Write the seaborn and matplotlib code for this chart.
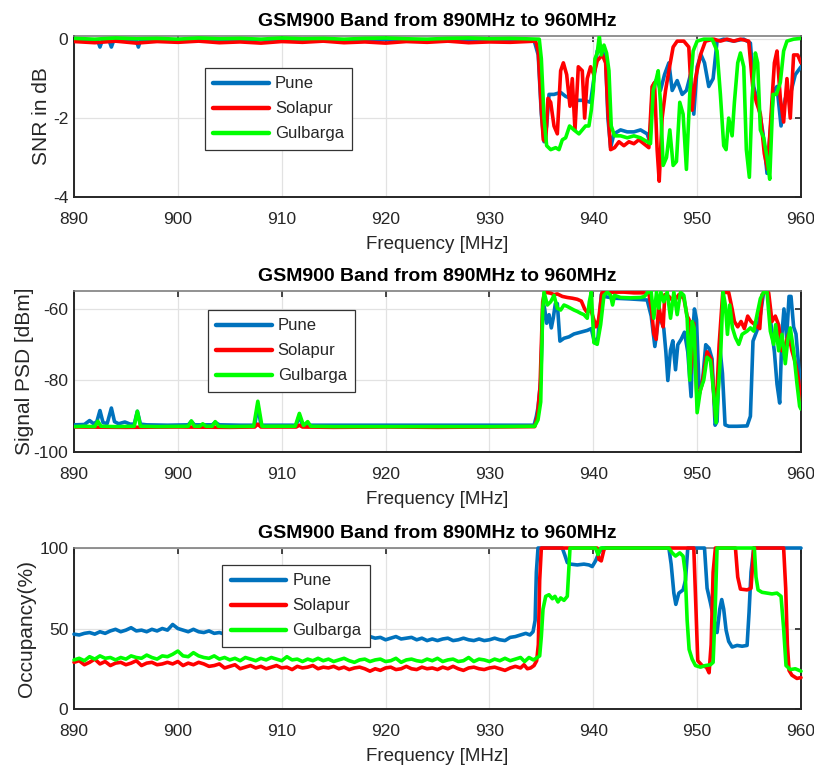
import numpy as np
import pandas as pd
import seaborn as sns
import matplotlib.pyplot as plt

# ---------------------------------------------------------------- labels
CITIES = ["Pune", "Solapur", "Gulbarga"]
COLORS = {"Pune": "#0072BD", "Solapur": "#FF0000", "Gulbarga": "#00FF00"}
TITLE = "GSM900 Band from 890MHz to 960MHz"
X_LABEL = "Frequency [MHz]"
X_TICKS = [890, 900, 910, 920, 930, 940, 950, 960]

# ---------------------------------------------------------------- SNR (dB), (freq MHz, value)
snr_pune = [
    (890, -0.02), (891, -0.01), (892, -0.02), (892.3, -0.05), (892.5, -0.2), (892.7, -0.05),
    (893.2, -0.02), (893.4, -0.05), (893.6, -0.2), (893.8, -0.05), (894.5, -0.02), (895.5, -0.01),
    (896.0, -0.03), (896.2, -0.2), (896.4, -0.03), (898, -0.02), (901, -0.01), (904, -0.02),
    (907, -0.01), (910, -0.02), (913, -0.01), (916, -0.02), (919, -0.01), (922, -0.02),
    (925, -0.01), (928, -0.02), (931, -0.01), (934.3, -0.03),
    (934.7, -0.4), (935.0, -1.9), (935.26, -2.6), (935.51, -2.2), (935.74, -1.4), (936.22, -1.4),
    (936.86, -1.35), (937.34, -1.45), (937.82, -1.5), (938.46, -1.55), (939.1, -1.55), (939.74, -1.6),
    (940.06, -1.0), (940.38, -0.3), (940.87, -0.3), (941.19, -0.5), (941.41, -2.0), (941.67, -2.75),
    (941.99, -2.4), (942.63, -2.3), (943.27, -2.35), (943.91, -2.35), (944.55, -2.3), (945.19, -2.4),
    (945.45, -2.6), (945.71, -1.2), (946.15, -1.0), (946.47, -1.3), (946.86, -0.9), (947.28, -0.6),
    (947.6, -1.3), (948.08, -1.05), (948.56, -1.4), (948.97, -1.3), (949.36, -0.9), (949.68, -1.9),
    (950.0, -0.7), (950.38, -0.4), (950.71, -0.6), (951.12, -1.2), (951.54, -1.0), (951.92, -0.05),
    (952.56, 0.0), (953.53, -0.05), (954.49, 0.0), (955.13, -0.1), (955.45, -1.2), (955.93, -1.7),
    (956.35, -2.4), (956.73, -3.4), (957.05, -2.3), (957.37, -1.3), (957.69, -1.2), (958.08, -2.2),
    (958.49, -1.5), (958.97, -1.4), (959.45, -0.9), (960.0, -0.7),
]
snr_solapur = [
    (890, -0.06), (892, -0.09), (894, -0.05), (896, -0.1), (898, -0.06), (900, -0.08), (902, -0.05),
    (904, -0.09), (906, -0.07), (908, -0.1), (910, -0.06), (912, -0.08), (914, -0.05), (916, -0.09),
    (918, -0.07), (920, -0.1), (922, -0.06), (924, -0.08), (926, -0.05), (928, -0.09), (930, -0.07),
    (932, -0.08), (934.45, -0.05),
    (934.7, -0.3), (935.0, -1.8), (935.19, -2.55), (935.42, -2.6), (935.64, -1.5), (935.9, -1.6),
    (936.22, -2.2), (936.54, -2.4), (936.86, -0.8), (937.12, -0.6), (937.44, -0.9), (937.76, -1.7),
    (937.98, -1.0), (938.24, -2.3), (938.56, -0.7), (938.94, -0.8), (939.17, -2.0), (939.42, -1.0),
    (939.74, -0.7), (940.06, -0.9), (940.38, -0.55), (940.87, -0.4), (941.19, -0.6), (941.41, -1.8),
    (941.67, -2.8), (942.05, -2.75), (942.47, -2.6), (942.95, -2.7), (943.43, -2.6), (943.91, -2.65),
    (944.39, -2.55), (944.87, -2.65), (945.35, -2.75), (945.67, -1.2), (945.9, -1.1), (946.15, -2.8),
    (946.35, -3.6), (946.63, -2.0), (946.96, -1.3), (947.28, -0.8), (947.69, -0.2), (948.08, -0.05),
    (948.72, -0.05), (949.2, -0.2), (949.52, -1.8), (949.84, -1.0), (950.32, -0.4), (950.8, -0.05),
    (951.6, 0.0), (952.24, -0.05), (952.88, 0.0), (953.53, -0.05), (954.17, 0.0), (954.97, -0.05),
    (955.35, -1.2), (955.71, -1.6), (956.09, -1.9), (956.47, -2.9), (956.79, -3.3), (957.1, -2.0),
    (957.44, -0.6), (957.69, -0.3), (958.01, -1.5), (958.33, -2.1), (958.65, -1.0), (958.97, -2.0),
    (959.29, -0.4), (959.68, -0.4), (960.0, -0.6),
]
snr_gulbarga = [
    (890, 0.02), (892, 0.0), (894, 0.03), (896, 0.01), (898, 0.02), (900, 0.0), (902, 0.03),
    (904, 0.01), (906, 0.02), (908, 0.0), (910, 0.03), (912, 0.01), (914, 0.02), (916, 0.0),
    (918, 0.02), (920, 0.03), (922, 0.01), (924, 0.0), (926, 0.02), (928, 0.03), (930, 0.01),
    (932, 0.02), (934.8, 0.0),
    (935.0, -0.5), (935.26, -2.0), (935.51, -2.7), (935.9, -2.8), (936.38, -2.75), (936.7, -2.8),
    (937.02, -2.55), (937.34, -2.5), (937.72, -2.2), (938.14, -2.3), (938.62, -2.4), (938.94, -2.3),
    (939.26, -2.2), (939.58, -2.2), (939.81, -1.8), (940.0, -1.3), (940.16, -0.5), (940.38, -0.35),
    (940.58, 0.08), (940.77, -0.4), (941.03, -0.15), (941.28, -0.35), (941.51, -0.8), (941.73, -2.2),
    (942.05, -2.45), (942.63, -2.45), (943.27, -2.5), (943.91, -2.45), (944.55, -2.5), (945.19, -2.6),
    (945.51, -2.65), (945.77, -1.3), (945.99, -1.1), (946.25, -0.8), (946.47, -1.6), (946.73, -3.2),
    (947.05, -3.0), (947.37, -2.3), (947.69, -3.2), (948.01, -3.1), (948.33, -1.6), (948.65, -1.9),
    (948.97, -3.3), (949.29, -1.4), (949.62, -0.3), (950.0, -0.05), (950.64, 0.0), (951.44, 0.0),
    (951.92, -0.3), (952.24, -1.4), (952.56, -2.7), (952.79, -2.8), (953.04, -2.0), (953.37, -2.45),
    (953.59, -1.6), (953.91, -0.6), (954.17, -0.35), (954.49, -0.7), (954.74, -2.8), (955.03, -3.5),
    (955.29, -1.5), (955.61, -0.35), (955.83, -0.6), (956.09, -2.3), (956.41, -2.5), (956.73, -3.0),
    (956.99, -3.55), (957.31, -1.4), (957.63, -1.4), (958.01, -1.1), (958.33, -0.3), (958.65, -0.05),
    (959.29, 0.0), (960.0, 0.02),
]

# ---------------------------------------------------------------- signal PSD (dBm), (freq MHz, value)
psd_pune = [
    (890, -92.4), (891, -92.3), (891.5, -91.2), (891.9, -92.1), (892.2, -91.5), (892.5, -88.4),
    (892.8, -91.8), (893.2, -92.0), (893.6, -87.7), (893.9, -91.5), (894.3, -92.1), (894.9, -91.6),
    (895.4, -92.2), (895.8, -92.2), (896.1, -88.6), (896.4, -92.2), (897, -92.4), (899, -92.5),
    (901, -92.4), (901.3, -91.4), (901.6, -92.4), (903.3, -92.4), (903.6, -91.7), (904, -92.4),
    (906, -92.5), (907.4, -92.5), (907.7, -87.0), (908.0, -92.5), (910, -92.5), (911.4, -92.5),
    (911.7, -89.8), (912.0, -92.5), (915, -92.5), (920, -92.5), (925, -92.5), (930, -92.5),
    (934.3, -92.5), (934.52, -90.0), (934.68, -87.5), (934.94, -80.0), (935.16, -58.0), (935.32, -60.0),
    (935.51, -64.0), (935.74, -61.6), (935.96, -65.3), (936.15, -62.5), (936.35, -58.5), (936.54, -58.5),
    (936.79, -69.0), (937.18, -68.2), (937.66, -67.8), (938.14, -67.0), (938.78, -66.5), (939.42, -66.0),
    (939.81, -65.5), (940.13, -69.5), (940.45, -68.0), (940.77, -56.0), (941.03, -56.5), (942.0, -57.0),
    (943.5, -57.2), (945.19, -57.5), (945.58, -62.0), (945.93, -70.5), (946.22, -64.0), (946.47, -62.5),
    (946.79, -65.5), (946.99, -72.0), (947.18, -80.0), (947.44, -71.5), (947.66, -68.9), (947.92, -77.0),
    (948.14, -70.0), (948.46, -68.5), (948.78, -66.5), (949.1, -72.0), (949.42, -84.5), (949.62, -65.0),
    (949.74, -60.0), (949.94, -63.0), (950.19, -82.0), (950.51, -80.5), (950.83, -70.0), (951.15, -71.0),
    (951.44, -74.0), (951.73, -92.5), (951.92, -91.5), (952.18, -70.5), (952.44, -78.0), (952.69, -92.4),
    (953.04, -92.8), (953.85, -92.8), (954.81, -92.7), (955.13, -90.0), (955.38, -69.0), (955.77, -66.0),
    (956.09, -61.6), (956.41, -55.3), (956.79, -55.3), (957.1, -64.0), (957.44, -72.0), (957.69, -81.0),
    (957.95, -86.3), (958.17, -67.0), (958.36, -60.0), (958.62, -68.0), (958.85, -56.5), (959.04, -56.5),
    (959.29, -65.0), (959.52, -67.0), (959.78, -76.0), (960.0, -81.0),
]
psd_solapur = [
    (890, -93.0), (895, -93.1), (900, -93.0), (905, -93.1), (907.4, -93.0), (907.7, -92.2),
    (908.0, -93.0), (910, -93.0), (911.4, -93.0), (911.7, -92.5), (912.0, -93.0), (915, -93.1),
    (920, -93.0), (925, -93.1), (930, -93.0),
    (934.36, -92.9), (934.62, -90.0), (934.87, -82.0), (935.13, -58.0), (935.32, -55.3), (935.9, -55.6),
    (936.22, -56.0), (936.54, -55.8), (937.02, -56.5), (937.5, -56.8), (937.98, -57.0), (938.46, -57.3),
    (938.85, -57.8), (939.17, -60.0), (939.42, -61.0), (939.74, -60.0), (940.06, -63.0), (940.26, -65.0),
    (940.51, -63.0), (940.83, -55.5), (941.35, -55.4), (942.31, -55.3), (942.95, -55.3), (943.91, -55.5),
    (944.87, -55.5), (945.35, -55.8), (945.61, -60.0), (945.83, -67.0), (946.06, -68.5), (946.31, -59.0),
    (946.54, -63.0), (946.73, -65.0), (946.89, -56.0), (947.28, -56.5), (947.76, -58.0), (948.24, -56.0),
    (948.72, -57.0), (949.04, -62.0), (949.23, -63.0), (949.36, -78.0), (949.68, -64.0), (950.0, -86.0),
    (950.48, -81.0), (950.96, -72.0), (951.35, -74.0), (951.79, -90.5), (952.12, -70.0), (952.31, -62.0),
    (952.47, -55.4), (953.04, -55.4), (953.37, -60.0), (953.59, -63.5), (953.91, -65.0), (954.23, -63.5),
    (954.55, -65.5), (954.87, -62.0), (955.19, -63.5), (955.61, -64.5), (956.03, -65.5), (956.25, -56.0),
    (956.57, -55.3), (956.89, -55.5), (957.21, -63.5), (957.53, -62.0), (957.85, -64.5), (958.17, -71.7),
    (958.49, -70.0), (958.81, -67.0), (959.13, -71.7), (959.45, -75.0), (959.78, -80.0), (960.0, -87.5),
]
psd_gulbarga = [
    (890, -92.9), (891, -92.8), (892.0, -92.9), (892.3, -91.4), (892.6, -92.8), (894, -92.9),
    (895.8, -92.8), (896.1, -88.6), (896.4, -92.8), (898, -92.9), (901.0, -92.8), (901.3, -91.3),
    (901.6, -92.8), (902.1, -92.8), (902.4, -92.1), (902.7, -92.8), (903.3, -92.8), (903.6, -91.5),
    (903.9, -92.8), (905, -92.9), (907.3, -92.8), (907.7, -85.8), (908.1, -92.8), (911.3, -92.8),
    (911.7, -89.2), (912.1, -92.6), (912.5, -91.5), (912.8, -92.8), (915, -92.9), (920, -92.9),
    (925, -92.9), (930, -92.9),
    (934.36, -92.8), (934.68, -91.0), (934.94, -86.0), (935.13, -60.0), (935.26, -55.3), (935.58, -58.9),
    (935.9, -58.0), (936.22, -56.2), (936.54, -59.8), (936.86, -60.3), (937.18, -58.9), (937.5, -59.3),
    (937.82, -59.8), (938.14, -60.3), (938.46, -60.7), (938.78, -61.2), (939.1, -61.6), (939.42, -62.6),
    (939.62, -58.0), (939.81, -55.3), (940.06, -69.4), (940.38, -69.9), (940.71, -64.4), (941.03, -56.2),
    (941.35, -55.3), (941.67, -56.2), (941.86, -58.9), (942.05, -56.2), (942.63, -56.8), (943.59, -56.9),
    (944.55, -56.8), (944.94, -56.5), (945.26, -55.3), (945.58, -55.3), (945.83, -62.6), (946.09, -55.3),
    (946.31, -59.8), (946.51, -55.3), (946.79, -58.0), (947.12, -55.3), (947.44, -62.6), (947.76, -55.3),
    (948.08, -61.6), (948.4, -55.3), (948.72, -56.2), (949.04, -62.6), (949.29, -79.9), (949.52, -63.5),
    (949.71, -65.3), (950.0, -89.0), (950.32, -82.6), (950.64, -79.9), (950.96, -73.5), (951.28, -74.4),
    (951.6, -83.6), (951.83, -91.8), (952.08, -80.8), (952.28, -71.7), (952.5, -55.3), (952.72, -58.9),
    (952.92, -67.1), (953.14, -58.9), (953.4, -65.3), (953.69, -68.0), (954.01, -69.9), (954.33, -67.1),
    (954.81, -66.2), (955.13, -65.3), (955.45, -66.2), (955.77, -61.6), (956.09, -57.1), (956.41, -55.3),
    (956.73, -55.3), (957.05, -66.2), (957.37, -69.9), (957.56, -64.4), (957.85, -71.7), (958.17, -67.1),
    (958.49, -75.3), (958.72, -68.9), (958.97, -65.3), (959.29, -71.7), (959.61, -80.8), (959.87, -87.2),
    (960.0, -88.0),
]

# ---------------------------------------------------------------- occupancy (%)
# 890-933 MHz sampled every 0.5 MHz, then (freq MHz, value) breakpoints up to 960 MHz
occ_freq_low = np.arange(890.0, 933.01, 0.5)
occ_pune_low = [
    46.5, 46, 47, 47.5, 46.5, 48, 47, 48.5, 49.5,
    48, 49, 50.5, 48.5, 49, 48, 49.5, 48.5, 50, 49,
    52.5, 50, 49, 48, 49.5, 48, 47.5, 48.5, 47, 47.5,
    46.5, 47, 46, 47.5, 45.5, 46.5, 45, 46, 45.5, 46,
    45, 46.5, 45.5, 44.5, 45.5, 46, 45, 45.5, 44.5, 45.5,
    45, 44.5, 45.5, 44, 45, 44.5, 43.5, 44.5, 45, 44,
    44.5, 43, 44, 45, 43.5, 44, 44.5, 43, 44, 42.5,
    43.5, 42.5, 43.5, 44, 42.5, 43, 44, 43, 42.5, 43.5,
    42.5, 43, 44, 43, 42.5, 44.5, 45, 46,
]
occ_solapur_low = [
    29, 30, 27.5, 29, 31, 28, 29.5, 27, 28.5,
    29, 27.5, 28.5, 30, 27, 28.5, 29, 27.5, 28, 29,
    28, 29.5, 27, 28.5, 27.5, 29, 28, 26.5, 27, 28,
    25.5, 26.5, 27.5, 25, 26, 27, 25.5, 26.5, 25, 26,
    27, 25.5, 26, 24.5, 26.5, 25.5, 26, 27, 25, 26,
    25.5, 26.5, 25, 26, 24.5, 25.5, 26, 25, 23.5, 25,
    24, 25.5, 26, 24.5, 25, 26.5, 25, 24.5, 26, 25,
    25.5, 24.5, 26, 25, 26.5, 25, 24, 25.5, 26, 25,
    24.5, 25.5, 26, 25, 24, 25.5, 26.5, 25.5,
]
occ_gulbarga_low = [
    30.5, 31.5, 30, 32.5, 31, 33, 31.5, 32, 30.5,
    32, 31, 33, 32, 31.5, 33.5, 32, 31, 33, 32.5,
    34, 36, 33, 32.5, 35, 33, 32, 31.5, 33, 31,
    32, 30.5, 31.5, 30, 32, 31, 30, 31.5, 30.5, 32,
    31, 30, 32.5, 30.5, 31, 29.5, 31, 30, 31.5, 30,
    31, 29.5, 30.5, 31.5, 30, 29, 30.5, 31, 29.5, 30.5,
    31, 29.5, 30, 31.5, 29, 30.5, 31, 30, 29.5, 31,
    30, 31.5, 29.5, 30.5, 31, 29.5, 30, 32, 29.5, 31,
    30.5, 29.5, 31, 30, 31.5, 30, 31, 32,
]
occ_pune_high = [
    (933.5, 47), (933.9, 46), (934.2, 48), (934.4, 55), (934.52, 85), (934.68, 100), (937.02, 100),
    (937.24, 96), (937.5, 91), (937.82, 90), (938.46, 89.5), (939.1, 90), (939.58, 89.5), (939.9, 88.5),
    (940.22, 92), (940.54, 97), (940.87, 100), (947.28, 100), (947.5, 90), (947.76, 72), (947.95, 65),
    (948.24, 72), (948.65, 74), (948.88, 80), (949.1, 100), (950.71, 100), (950.96, 75), (951.28, 66),
    (951.6, 56), (951.92, 47.5), (952.18, 62), (952.37, 68), (952.56, 62), (952.79, 49), (953.04, 42),
    (953.37, 38.5), (953.85, 39.5), (954.33, 39), (954.81, 39.5), (955.0, 60), (955.19, 85),
    (955.45, 100), (960.0, 100),
]
occ_solapur_high = [
    (933.33, 27.5), (933.65, 25), (933.97, 25.5), (934.3, 27), (934.55, 30), (934.71, 40), (934.84, 80),
    (935.0, 100), (940.38, 100), (940.54, 93), (940.77, 92), (941.03, 99), (941.19, 100), (949.68, 100),
    (949.9, 60), (950.06, 30), (950.48, 27), (950.9, 26), (951.15, 22.5), (951.35, 40), (951.54, 85),
    (951.76, 100), (953.69, 100), (953.91, 82), (954.17, 74.5), (954.81, 74), (955.19, 75),
    (955.45, 100), (958.33, 100), (958.53, 75), (958.69, 40), (958.85, 24), (959.13, 21),
    (959.61, 19), (960.0, 19.5),
]
occ_gulbarga_high = [
    (933.39, 29.5), (933.81, 32), (934.23, 30.5), (934.62, 32), (934.84, 33), (935.0, 45), (935.16, 62),
    (935.42, 70), (935.74, 71), (936.06, 68.5), (936.31, 70), (936.6, 66.5), (936.86, 69), (937.18, 67.5),
    (937.5, 70), (937.63, 85), (937.76, 100), (940.22, 100), (940.45, 96), (940.71, 100), (947.28, 100),
    (947.6, 97), (947.92, 95), (948.33, 97), (948.65, 95), (948.85, 85), (949.04, 55), (949.23, 37),
    (949.52, 31), (949.84, 27), (950.32, 26), (950.8, 27), (951.28, 27.5), (951.54, 29), (951.73, 60),
    (951.92, 100), (955.51, 100), (955.67, 82), (955.87, 74), (956.25, 72.5), (956.73, 72),
    (957.21, 71.5), (957.69, 72), (958.08, 70), (958.33, 50), (958.56, 27), (958.97, 24.5),
    (959.45, 25), (960.0, 23.5),
]


def pairs_frame(series):
    parts = []
    for city, pts in zip(CITIES, series):
        f, v = zip(*pts)
        parts.append(pd.DataFrame({"freq": f, "value": v, "city": city}))
    return pd.concat(parts, ignore_index=True)


def occupancy_frame():
    parts = []
    for city, low, high in zip(CITIES,
                               [occ_pune_low, occ_solapur_low, occ_gulbarga_low],
                               [occ_pune_high, occ_solapur_high, occ_gulbarga_high]):
        hf, hv = zip(*high)
        f = list(occ_freq_low) + list(hf)
        v = list(low) + list(hv)
        parts.append(pd.DataFrame({"freq": f, "value": v, "city": city}))
    return pd.concat(parts, ignore_index=True)


panels = [
    dict(df=pairs_frame([snr_pune, snr_solapur, snr_gulbarga]), ylabel="SNR in dB",
         ylim=(-4, 0.08), yticks=[-4, -2, 0], clip=True, legend_at=(0.180, 0.801),
         rect=[0.0909, 0.7445, 0.8931, 0.2088], label_x=-0.031),
    dict(df=pairs_frame([psd_pune, psd_solapur, psd_gulbarga]), ylabel="Signal PSD [dBm]",
         ylim=(-100, -55), yticks=[-100, -80, -60], clip=True, legend_at=(0.184, 0.882),
         rect=[0.0909, 0.4137, 0.8931, 0.2088], label_x=-0.055),
    dict(df=occupancy_frame(), ylabel="Occupancy(%)",
         ylim=(0, 100), yticks=[0, 50, 100], clip=False, legend_at=(0.204, 0.894),
         rect=[0.0909, 0.0804, 0.8931, 0.2088], label_x=-0.052),
]

sns.set_style("white")
plt.rcParams["font.family"] = ["Liberation Sans", "DejaVu Sans"]
plt.rcParams["text.color"] = "#262626"
plt.rcParams["axes.unicode_minus"] = False

fig, axes = plt.subplots(3, 1, figsize=(8.14, 7.71), dpi=100)

DARK = "#262626"
for ax, p in zip(axes, panels):
    ax.set_position(p["rect"])
    sns.lineplot(data=p["df"], x="freq", y="value", hue="city", hue_order=CITIES,
                 palette=COLORS, estimator=None, sort=False, linewidth=2.6,
                 clip_on=p["clip"], ax=ax, zorder=3)
    ax.set_xlim(890, 960)
    ax.set_ylim(*p["ylim"])
    ax.set_xticks(X_TICKS)
    ax.set_yticks(p["yticks"])
    ax.grid(True, color="#e2e2e2", linewidth=0.9)
    ax.set_axisbelow(True)
    for side in ["left", "bottom", "right"]:
        ax.spines[side].set_color(DARK)
        ax.spines[side].set_linewidth(1.4)
    ax.spines["top"].set_color("#7f7f7f")
    ax.spines["top"].set_linewidth(1.2)
    ax.tick_params(axis="both", direction="in", length=4, width=1.2, color=DARK,
                   labelcolor=DARK, labelsize=12.5, top=True, right=True)
    ax.tick_params(axis="x", pad=10.8)
    ax.tick_params(axis="y", pad=4)
    ax.set_title(TITLE, fontsize=14, fontweight="bold", pad=7.5, color="black")
    ax.set_xlabel(X_LABEL, fontsize=13.5, labelpad=6.5, color=DARK)
    ax.set_ylabel(p["ylabel"], fontsize=15, color=DARK)
    ax.yaxis.set_label_coords(p["label_x"], 0.5)

    sns.move_legend(ax, "upper left", bbox_to_anchor=p["legend_at"], title=None,
                    frameon=True, fontsize=12, handlelength=3.35, handletextpad=0.35,
                    labelspacing=0.6, borderpad=0.5, borderaxespad=0, fancybox=False,
                    framealpha=1, edgecolor="#333333")
    leg = ax.get_legend()
    leg.get_frame().set_linewidth(0.9)
    leg.set_zorder(5)
    for line in leg.get_lines():
        line.set_linewidth(3.2)

fig.savefig("out.png", dpi=100, facecolor="white")
